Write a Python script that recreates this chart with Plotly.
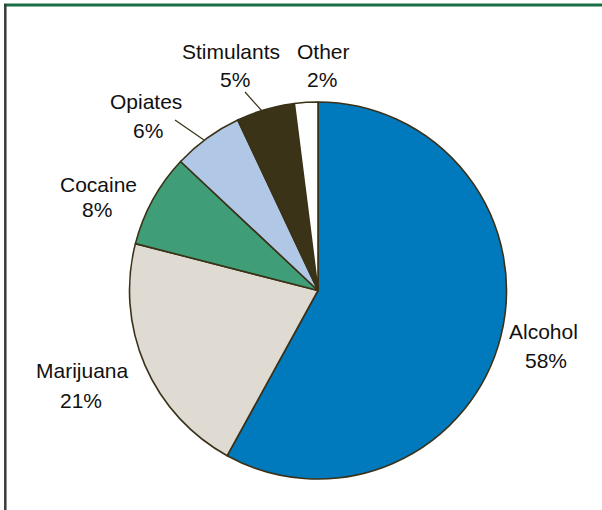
import plotly.graph_objects as go

categories = ["Alcohol", "Marijuana", "Cocaine", "Opiates", "Stimulants", "Other"]
values = [58, 21, 8, 6, 5, 2]
pct_labels = ["58%", "21%", "8%", "6%", "5%", "2%"]
colors = ["#0079bd", "#dfdbd3", "#3f9e78", "#b0c8e6", "#3a3317", "#ffffff"]

W, H = 602, 510
cx, cy, r = 318, 290.5, 188.5

fig = go.Figure(go.Pie(
    labels=categories, values=values, sort=False, direction="clockwise",
    rotation=0, textinfo="none", hoverinfo="label+percent",
    marker=dict(colors=colors, line=dict(color="#3a3117", width=1.6)),
    domain=dict(x=[(cx - r) / W, (cx + r) / W], y=[(H - cy - r) / H, (H - cy + r) / H]),
    showlegend=False,
))

# label positions (pixel centers): name line, percent line
name_pos = [(543, 331), (82, 370), (98, 184), (146, 102), (231, 52), (323, 52)]
pct_pos = [(546, 360), (81, 400), (97, 209), (148, 130), (235, 79), (322, 79)]

font = dict(family="Liberation Sans, Arial, sans-serif", size=21, color="#111111")
ann = []
for name, pct, (nx, ny), (px, py) in zip(categories, pct_labels, name_pos, pct_pos):
    ann.append(dict(text=name, x=nx / W, y=1 - ny / H, xref="paper", yref="paper",
                    showarrow=False, font=font, xanchor="center", yanchor="middle"))
    ann.append(dict(text=pct, x=px / W, y=1 - py / H, xref="paper", yref="paper",
                    showarrow=False, font=font, xanchor="center", yanchor="middle"))

# leader lines
leaders = [((175, 120), (204, 140)), ((245, 92), (262, 111))]
shapes = []
for (x0, y0), (x1, y1) in leaders:
    shapes.append(dict(type="line", xref="paper", yref="paper",
                       x0=x0 / W, y0=1 - y0 / H, x1=x1 / W, y1=1 - y1 / H,
                       line=dict(color="#3a3117", width=1.2)))

# frame: green top rule and dark left rule
shapes.append(dict(type="line", xref="paper", yref="paper", x0=4 / W, x1=1, y0=1 - 5 / H, y1=1 - 5 / H,
                   line=dict(color="#1a6e45", width=3)))
shapes.append(dict(type="line", xref="paper", yref="paper", x0=5.3 / W, x1=5.3 / W, y0=0, y1=1 - 4 / H,
                   line=dict(color="#3a3a3a", width=2.5)))

fig.update_layout(
    width=W, height=H, margin=dict(l=0, r=0, t=0, b=0),
    paper_bgcolor="white", plot_bgcolor="white",
    annotations=ann, shapes=shapes,
)

fig.write_html("out.html", config={"displayModeBar": False},
               post_script="document.body.style.margin='0px';")
